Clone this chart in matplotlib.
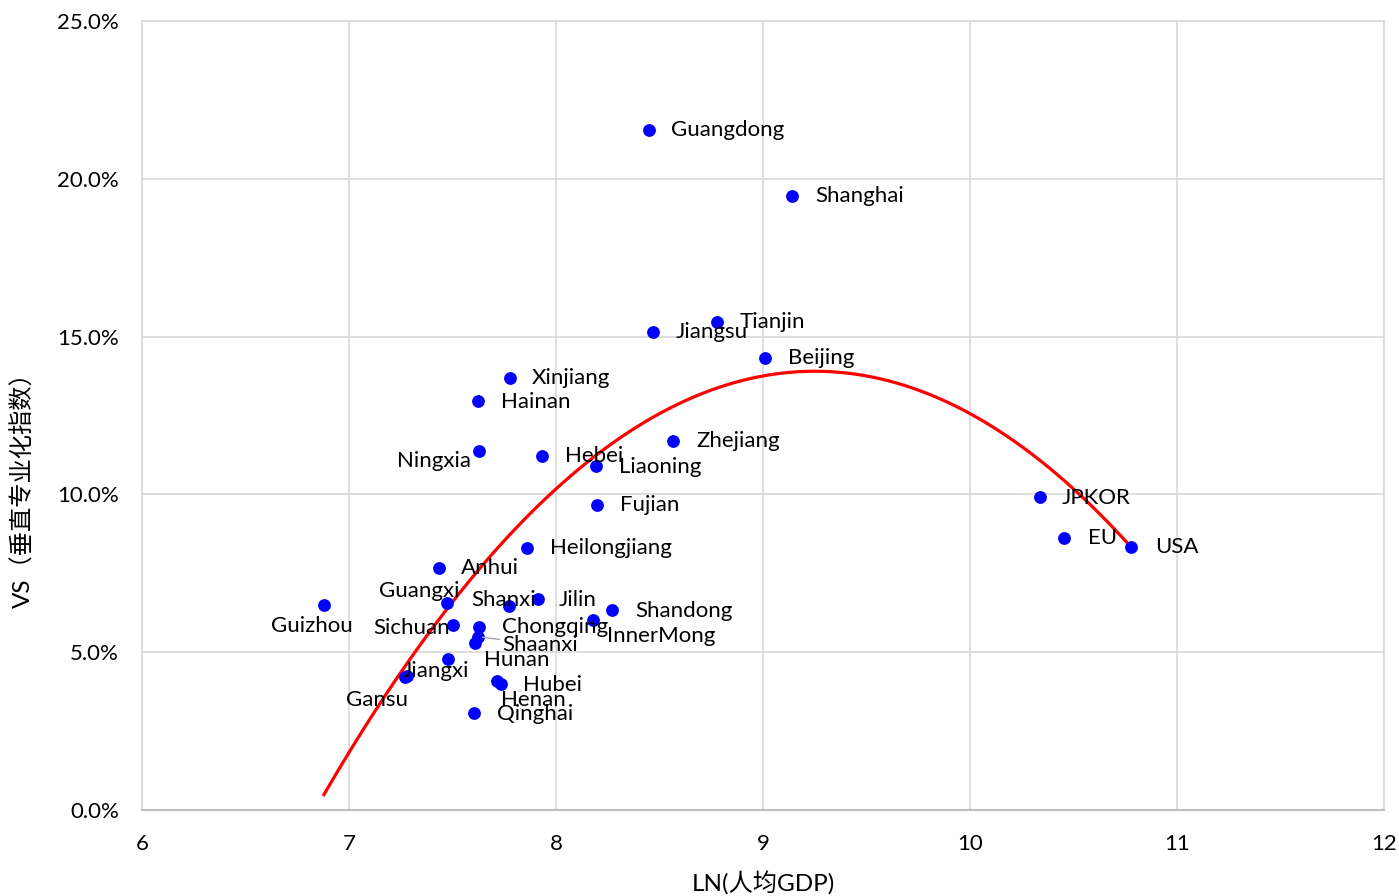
import numpy as np
import matplotlib
matplotlib.use("Agg")
import matplotlib.pyplot as plt
from matplotlib.ticker import PercentFormatter, MultipleLocator

plt.rcParams['font.family'] = ['Lato', 'Noto Sans CJK SC', 'DejaVu Sans']

# ---- data ----
regions = ["Guangdong", "Shanghai", "Tianjin", "Jiangsu", "Beijing", "Xinjiang", "Hainan",
           "Zhejiang", "Ningxia", "Hebei", "Liaoning", "Fujian", "JPKOR", "EU", "USA",
           "Heilongjiang", "Anhui", "Guizhou", "Guangxi", "Shanxi", "Jilin", "Shandong",
           "InnerMong", "Sichuan", "Chongqing", "Shaanxi", "", "Hunan", "Jiangxi", "Gansu",
           "Hubei", "Henan", "Qinghai"]
ln_gdp = [8.449, 9.140, 8.778, 8.469, 9.010, 7.778, 7.623,
          8.565, 7.628, 7.932, 8.193, 8.198, 10.338, 10.454, 10.778,
          7.860, 7.435, 6.879, 7.473, 7.775, 7.911, 8.271,
          8.180, 7.504, 7.630, 7.625, 7.607, 7.480, 7.279, 7.272,
          7.717, 7.733, 7.602]
vs = [0.2155, 0.1945, 0.1546, 0.1515, 0.1432, 0.1369, 0.1296,
      0.1169, 0.1138, 0.1122, 0.1090, 0.0966, 0.0992, 0.0862, 0.0833,
      0.0830, 0.0767, 0.0650, 0.0657, 0.0646, 0.0668, 0.0634,
      0.0602, 0.0585, 0.0581, 0.0549, 0.0528, 0.0478, 0.0426, 0.0422,
      0.0410, 0.0398, 0.0306]

# quadratic trend line coefficients: vs = a*x^2 + b*x + c
trend_coef = [-0.02386, 0.44141, -1.9025]

x_ticks = [6, 7, 8, 9, 10, 11, 12]
x_label = "LN(人均GDP)"
y_label = "VS（垂直专业化指数）"

# label placement (pixel offsets from the dot, alignment)
label_pos = {
    "Guangdong": (22, 0, 'left'), "Shanghai": (23, 0, 'left'), "Tianjin": (23, 0, 'left'),
    "Jiangsu": (23, 0, 'left'), "Beijing": (23, 0, 'left'), "Xinjiang": (22, 0, 'left'),
    "Hainan": (23, -1, 'left'), "Zhejiang": (23, 0, 'left'), "Ningxia": (-8, -10, 'right'),
    "Hebei": (23, 0, 'left'), "Liaoning": (23, -1, 'left'), "Fujian": (23, 0, 'left'),
    "JPKOR": (22, -1, 'left'), "EU": (24, 0, 'left'), "USA": (24, 0, 'left'),
    "Heilongjiang": (23, 0, 'left'), "Anhui": (22, 0, 'left'), "Guizhou": (-12, -21, 'center'),
    "Guangxi": (13, 12, 'right'), "Shanxi": (-38, 6, 'left'), "Jilin": (21, -1, 'left'),
    "Shandong": (23, -1, 'left'), "InnerMong": (14, -16, 'left'), "Sichuan": (-3, -3, 'right'),
    "Chongqing": (23, 0, 'left'), "Shaanxi": (24, -8, 'left'), "Hunan": (36, -1, 'left'),
    "Jiangxi": (-4, 5, 'left'), "Gansu": (-28, -23, 'center'), "Hubei": (26, -4, 'left'),
    "Henan": (0, -16, 'left'), "Qinghai": (23, -1, 'left'),
}

W, H, DPI = 1399, 896, 100
fig = plt.figure(figsize=(W / DPI, H / DPI), dpi=DPI)
ax = fig.add_axes([142 / W, 1 - 810 / H, (1384 - 142) / W, (810 - 21) / H])

grid_c = '#d9d9d9'
ax.set_xlim(6, 12)
ax.set_ylim(0, 0.25)
ax.set_xticks(x_ticks)
ax.yaxis.set_major_locator(MultipleLocator(0.05))
ax.yaxis.set_major_formatter(PercentFormatter(1.0, decimals=1))
ax.grid(True, color=grid_c, linewidth=1.2)
ax.set_axisbelow(True)
for s in ['top', 'right', 'left']:
    ax.spines[s].set_color(grid_c)
    ax.spines[s].set_linewidth(1.2)
ax.spines['bottom'].set_color('#bfbfbf')
ax.spines['bottom'].set_linewidth(1.5)
ax.tick_params(length=0, labelsize=16, colors='#000000')
ax.tick_params(axis='y', pad=16.5)
ax.tick_params(axis='x', pad=17)

# trend line
xs = np.linspace(min(ln_gdp), max(ln_gdp), 200)
ax.plot(xs, np.polyval(trend_coef, xs), color='#ff0000', linewidth=2.3, zorder=2)

ax.scatter(ln_gdp, vs, s=85, color='#0000ff', zorder=3, linewidths=0)

for name, x, y in zip(regions, ln_gdp, vs):
    if not name:
        continue
    dx, dy, ha = label_pos[name]
    kw = {}
    if name == "Shaanxi":
        kw['arrowprops'] = dict(arrowstyle='-', color='#a6a6a6', lw=1, shrinkA=0, shrinkB=3)
    ax.annotate(name, (x, y), xytext=(dx, dy), textcoords='offset pixels',
                ha=ha, va='center', fontsize=16, color='#000000', zorder=4, **kw)

ax.set_xlabel(x_label, fontsize=17.5)
ax.set_ylabel(y_label, fontsize=17.5)
ax.xaxis.set_label_coords(0.5, -0.078)
ax.yaxis.set_label_coords(-0.0862, 0.413)

fig.savefig("out.png", dpi=DPI)
